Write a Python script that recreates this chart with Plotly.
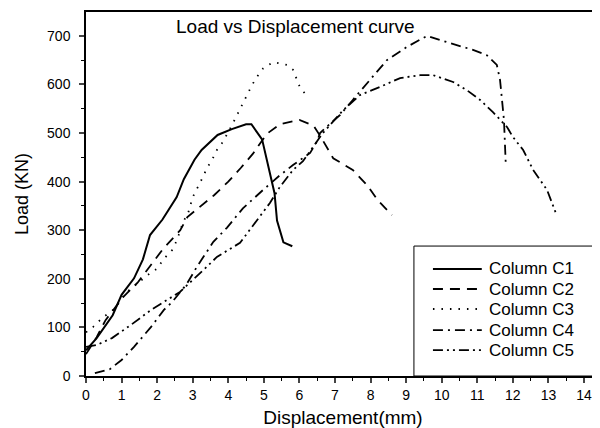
import plotly.graph_objects as go

# ---- data ----
c1_x = [0, 0.3, 0.75, 1.0, 1.35, 1.6, 1.8, 2.15, 2.55, 2.75, 3.05, 3.25, 3.7, 4.1, 4.5, 4.65, 4.95, 5.2, 5.3, 5.37, 5.55, 5.8]
c1_y = [53, 78, 125, 167, 201, 240, 290, 322, 368, 405, 445, 465, 496, 508, 518, 518, 487, 410, 376, 320, 275, 267]

c2_x = [0, 0.3, 0.55, 1.05, 1.45, 1.8, 2.15, 2.65, 2.85, 3.6, 4.0, 4.35, 4.7, 5.08, 5.45, 6.0, 6.4, 6.6, 6.95, 7.5, 7.9, 8.2, 8.6]
c2_y = [45, 80, 115, 163, 192, 225, 260, 300, 327, 372, 400, 428, 458, 498, 518, 527, 515, 492, 448, 424, 393, 362, 331]

c3_x = [0, 0.2, 0.45, 0.76, 1.15, 1.74, 2.02, 2.16, 2.42, 2.56, 2.73, 2.87, 3.0, 3.15, 3.29, 3.4, 3.54, 3.68, 3.85, 4.13, 4.27, 4.38, 4.52, 4.67, 4.8, 4.98, 5.26, 5.65, 5.82, 6.02, 6.24]
c3_y = [90, 101, 119, 136, 173, 208, 222, 239, 259, 280, 317, 335, 368, 389, 410, 428, 444, 465, 482, 520, 541, 557, 575, 599, 615, 633, 646, 640, 630, 593, 574]

c4_x = [0.25, 0.67, 1.0, 1.35, 1.83, 2.19, 2.42, 2.83, 3.12, 3.58, 3.96, 4.41, 4.98, 5.45, 5.82, 6.3, 6.49, 6.58, 6.92, 7.14, 7.5, 7.98, 8.46, 9.02, 9.59, 10.23, 10.88, 11.27, 11.55, 11.64, 11.69, 11.75, 11.8]
c4_y = [6, 14, 33, 60, 101, 136, 152, 189, 225, 276, 305, 345, 383, 413, 434, 459, 482, 500, 523, 537, 568, 609, 650, 677, 700, 685, 671, 660, 640, 609, 568, 527, 437]

c5_x = [0, 0.31, 0.73, 1.26, 1.83, 2.25, 2.56, 2.64, 3.4, 3.68, 4.33, 4.8, 5.17, 5.45, 5.82, 6.1, 6.66, 7.23, 7.7, 8.27, 8.83, 9.39, 9.76, 10.32, 10.71, 11.08, 11.44, 11.84, 12.0, 12.29, 12.57, 12.96, 13.2]
c5_y = [60, 64, 78, 105, 136, 156, 170, 173, 225, 245, 274, 321, 356, 389, 424, 442, 500, 547, 578, 595, 613, 619, 619, 605, 588, 568, 543, 512, 492, 465, 424, 383, 337]

names = ["Column C1", "Column C2", "Column C3", "Column C4", "Column C5"]
x_ticks = list(range(0, 15))
y_ticks = list(range(0, 701, 100))

FONT = "Liberation Sans, Arial, sans-serif"

dashes = ["solid", "10px,7px", "1.5px,7px", "10px,5px,2px,5px", "10px,4px,2px,4px,2px,4px"]
widths = [2, 1.8, 1.8, 1.8, 1.8]
xs_all = [c1_x, c2_x, c3_x, c4_x, c5_x]
ys_all = [c1_y, c2_y, c3_y, c4_y, c5_y]

fig = go.Figure()
for xs, ys, dash, w, nm in zip(xs_all, ys_all, dashes, widths, names):
    fig.add_trace(go.Scatter(x=xs, y=ys, mode="lines", name=nm, showlegend=False,
                             line=dict(color="black", width=w, dash=dash)))

# legend drawn as shapes + texts inside a framed box (paper coordinates)
legend_y = [0.294, 0.239, 0.184, 0.126, 0.071]
shapes = [dict(type="rect", xref="paper", yref="paper", x0=0.638, x1=1.02,
               y0=0, y1=0.357, line=dict(color="black", width=1))]
annotations = [dict(text="Load vs Displacement curve", xref="paper", yref="paper",
                    x=0.172, y=0.959, xanchor="left", yanchor="middle",
                    showarrow=False, font=dict(size=19, family=FONT))]
for nm, dash, w, ly in zip(names, dashes, widths, legend_y):
    shapes.append(dict(type="line", xref="paper", yref="paper", x0=0.675, x1=0.770,
                       y0=ly, y1=ly, line=dict(color="black", width=w, dash=dash)))
    annotations.append(dict(text=nm, xref="paper", yref="paper", x=0.780, y=ly,
                            xanchor="left", yanchor="middle", showarrow=False,
                            font=dict(size=17, family=FONT)))

fig.update_layout(
    width=592, height=420,
    margin=dict(l=78, r=0, t=4, b=52),
    paper_bgcolor="white", plot_bgcolor="white",
    font=dict(family=FONT, color="black"),
    showlegend=False,
    annotations=annotations,
    shapes=shapes,
)

fig.update_xaxes(range=[0, 14.45], tickvals=x_ticks, ticks="outside", ticklen=5, tickwidth=1.5,
                 showline=True, linecolor="black", linewidth=1.5, mirror=True,
                 showgrid=False, zeroline=False, tickfont=dict(size=14),
                 minor=dict(ticks="outside", ticklen=3, dtick=0.5, tickwidth=1.2, tickcolor="black"),
                 title=dict(text="Displacement(mm)", font=dict(size=19), standoff=11))
fig.update_yaxes(range=[0, 749], tickvals=y_ticks, ticks="outside", ticklen=5, tickwidth=1.5,
                 showline=True, linecolor="black", linewidth=1.5, mirror=False,
                 showgrid=False, zeroline=False, tickfont=dict(size=14), ticklabelstandoff=6,
                 minor=dict(ticks="outside", ticklen=3, dtick=50, tickwidth=1.2, tickcolor="black"),
                 title=dict(text="Load (KN)", font=dict(size=18), standoff=14))

fig.write_html("out.html")
